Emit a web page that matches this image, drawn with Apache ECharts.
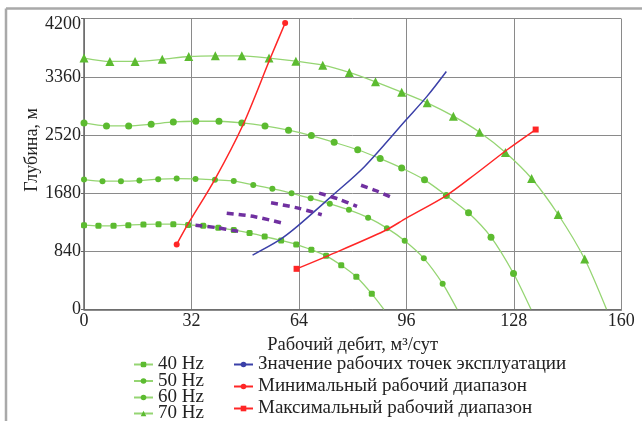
<!DOCTYPE html>
<html><head><meta charset="utf-8">
<script src="https://cdn.jsdelivr.net/npm/echarts@6/dist/echarts.min.js"></script>
<style>html,body{margin:0;padding:0;background:#fff}#c{width:642px;height:421px}</style>
</head><body><div id="c"></div>
<script>
// ---- data ----
var xTicks = [0, 32, 64, 96, 128, 160];
var yTicks = [0, 840, 1680, 2520, 3360, 4200];

var hz40 = [[0,1216],[4.3,1206],[8.8,1206],[13.2,1216],[17.7,1226],[22.2,1230],[26.6,1230],[31.0,1220],[35.5,1209],[40.0,1180],[44.6,1145],[49.3,1103],[53.8,1051],[58.7,995],[63.2,938],[67.7,860],[72.1,773],[76.6,636],[81.1,470],[85.7,224]];
var hz40End = [89.3,0];
var hz50 = [[0,1875],[5.5,1852],[11.0,1852],[16.5,1860],[22.1,1881],[27.6,1890],[33.2,1885],[39.0,1871],[44.6,1856],[50.4,1797],[56.1,1743],[61.8,1676],[67.5,1605],[73.2,1525],[78.9,1437],[84.6,1324],[90.2,1173],[95.5,991],[101.2,737],[106.8,370]];
var hz50End = [111.1,0];
var hz60 = [[0,2694],[6.7,2650],[13.3,2650],[20.0,2675],[26.6,2708],[33.3,2718],[40.2,2718],[47.0,2694],[53.9,2650],[60.9,2588],[67.7,2511],[74.5,2413],[81.5,2306],[88.2,2178],[94.6,2042],[101.4,1871],[107.9,1645],[114.5,1394],[121.2,1043],[127.9,517]];
var hz60End = [133.1,0];
var hz70 = [[0,3631],[7.7,3582],[15.2,3582],[23.3,3613],[31.2,3654],[39.1,3664],[47.0,3664],[55.1,3631],[63.1,3586],[71.1,3528],[79.0,3424],[86.8,3288],[94.6,3138],[102.2,2984],[110.0,2791],[117.8,2559],[125.5,2266],[133.3,1890],[141.2,1370],[149.1,726]];
var hz70End = [155.6,0];

var workPoints = [[50.2,784],[58.0,995],[63.6,1202],[73.5,1624],[83.5,2061],[96.0,2743],[102.2,3081],[107.9,3437]];
var minRange = [[27.6,938],[30.9,1226],[38.9,1871],[47.4,2671],[55.5,3631],[59.9,4138]];
var maxRange = [[63.3,585],[72.6,773],[89.4,1131],[96.0,1318],[108.0,1648],[116.8,1963],[126.0,2306],[134.5,2598]];

var wellA = [[33.2,1216],[39.5,1180],[45.9,1127]];
var wellB = [[42.5,1389],[50.9,1338],[60.0,1234]];
var wellC = [[55.7,1539],[64.1,1459],[70.8,1366]];
var wellD = [[70.0,1680],[75.6,1596],[81.3,1487]];
var wellE = [[82.5,1793],[86.8,1717],[91.7,1614]];

var names = ['40 Hz','50 Hz','60 Hz','70 Hz'];
var names2 = ['Значение рабочих точек эксплуатации','Минимальный рабочий диапазон','Максимальный рабочий диапазон'];

// ---- chart ----
var FONT = '"Liberation Serif","DejaVu Serif",serif';
var LINE_G = '#95d572', MARK_G = '#5cbb30';
function withEnd(arr, end){ return arr.map(function(p){return p;}).concat([{value:end, symbol:'none'}]); }
function endsOnly(arr){ return arr.map(function(p,i){ return (i===0||i===arr.length-1)?p:{value:p,symbol:'none'}; }); }
function hz(name, arr, end, sym, size){
  return {name:name, type:'line', data:withEnd(arr,end), symbol:sym, symbolSize:size, showSymbol:true,
    smooth:0.25, lineStyle:{color:LINE_G, width:1.3},
    itemStyle:{color:MARK_G}, z:3};
}
function well(arr){
  return {name:'well', type:'line', data:arr, symbol:'none', smooth:0.3,
    lineStyle:{color:'#7030a0', width:3.5, type:[7,5]}, z:5};
}
function leg(name, left, cy, gap){
  return {data:[name], orient:'vertical', left:left, top:cy-9, itemWidth:19, itemHeight:7,
    itemGap:0, itemTextGap:gap, padding:0,
    textStyle:{fontFamily:FONT, fontSize:19, color:'#222', lineHeight:18}};
}
var legends = [];
var leftRows = [364, 380.5, 397, 413];
var rightRows = [364, 386, 408];
names.forEach(function(n,i){ legends.push(leg(n, 133, leftRows[i], 5)); });
names2.forEach(function(n,i){ legends.push(leg(n, 233, rightRows[i], 14)); });

var chart = echarts.init(document.getElementById('c'), null, {renderer:'canvas'});
chart.setOption({
  animation:false,
  grid:{left:84, right:20.7, top:18.7, bottom:111.7, outerBoundsMode:'none'},
  xAxis:{type:'value', min:xTicks[0], max:xTicks[xTicks.length-1], interval:32,
    name:'Рабочий дебит, м³/сут', nameLocation:'middle', nameGap:18,
    nameTextStyle:{fontFamily:FONT, fontSize:18.5, color:'#222'},
    axisLine:{show:true, lineStyle:{color:'#666', width:1.5}},
    axisTick:{show:false},
    axisLabel:{fontFamily:FONT, fontSize:18, color:'#222', margin:3, formatter:function(v){return String(v);}},
    splitLine:{show:true, lineStyle:{color:'#8a8a8a', width:1}}},
  yAxis:{type:'value', min:yTicks[0], max:yTicks[yTicks.length-1], interval:840,
    axisLine:{show:true, lineStyle:{color:'#666', width:1.5}},
    axisTick:{show:true, length:3, lineStyle:{color:'#666'}},
    axisLabel:{fontFamily:FONT, fontSize:18, color:'#222', margin:3,
      formatter:function(v){ return v===yTicks[yTicks.length-1] ? '{t|'+v+'}' : String(v); },
      rich:{t:{fontFamily:FONT, fontSize:18, color:'#222', padding:[12,0,0,0]}}},
    splitLine:{show:true, lineStyle:{color:'#8a8a8a', width:1}}},
  legend:legends,
  graphic:[
    {type:'line', shape:{x1:6,y1:8.5,x2:642,y2:8.5}, style:{stroke:'#a9a9a9', lineWidth:2.5}},
    {type:'line', shape:{x1:6,y1:8.5,x2:6,y2:421}, style:{stroke:'#a9a9a9', lineWidth:2.5}},
    {type:'text', x:32, y:150, rotation:Math.PI/2,
     style:{text:'Глубина, м', font:'18px '+FONT, fill:'#222', align:'center', verticalAlign:'middle'}}
  ],
  series:[
    hz(names[0], hz40, hz40End, 'roundRect', 6),
    hz(names[1], hz50, hz50End, 'circle', 6),
    hz(names[2], hz60, hz60End, 'circle', 7),
    hz(names[3], hz70, hz70End, 'triangle', 9),
    {name:names2[0], type:'line', data:workPoints, symbol:'none', smooth:0.3,
     lineStyle:{color:'#3b40a8', width:1.5}, itemStyle:{color:'#3b40a8'}, z:4},
    {name:names2[1], type:'line', data:endsOnly(minRange), symbol:'circle', symbolSize:6, smooth:0.3,
     lineStyle:{color:'#ff2626', width:1.5}, itemStyle:{color:'#ff2626'}, z:4},
    {name:names2[2], type:'line', data:endsOnly(maxRange), symbol:'rect', symbolSize:6, smooth:0.3,
     lineStyle:{color:'#ff2626', width:1.5}, itemStyle:{color:'#ff2626'}, z:4},
    well(wellA), well(wellB), well(wellC), well(wellD), well(wellE)
  ]
});
</script></body></html>
